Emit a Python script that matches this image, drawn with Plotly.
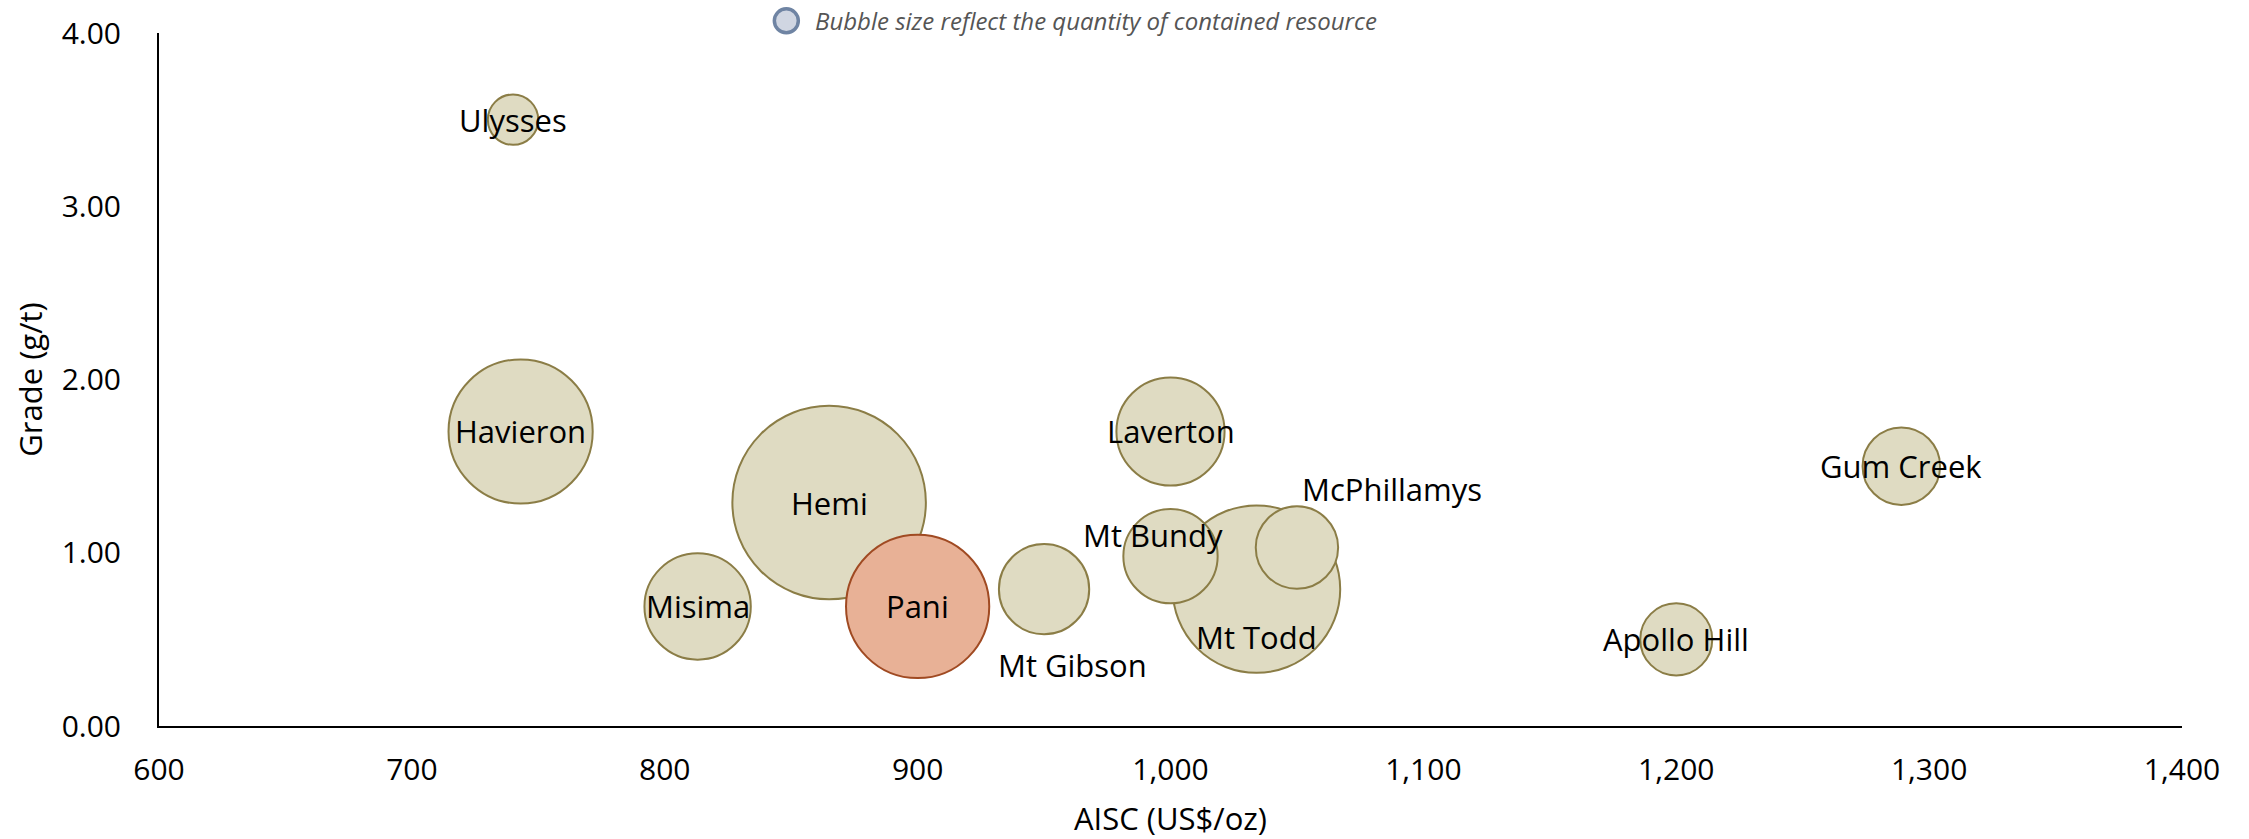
import plotly.graph_objects as go

# ---- data ----
projects = ["Ulysses", "Havieron", "Hemi", "Misima", "Pani", "Mt Gibson",
            "Laverton", "Mt Todd", "Mt Bundy", "McPhillamys", "Apollo Hill", "Gum Creek"]
aisc = [740, 743, 865, 813, 900, 950, 1000, 1034, 1000, 1050, 1200, 1289]          # US$/oz
grade = [3.50, 1.70, 1.29, 0.69, 0.69, 0.79, 1.70, 0.79, 0.98, 1.03, 0.50, 1.50]   # g/t
resource = [0.65, 5.33, 9.6, 2.9, 5.26, 2.09, 3.0, 7.19, 2.28, 1.74, 1.33, 1.54]   # contained resource (Moz, est.)
highlight = "Pani"

x_ticks = [600, 700, 800, 900, 1000, 1100, 1200, 1300, 1400]
y_ticks = [0, 1, 2, 3, 4]

# ---- styles ----
FONT = "Open Sans, Lato, sans-serif"
base_fill, base_line = "#dfdbc2", "#8b7d46"
hi_fill, hi_line = "#e8b196", "#a04a22"
label_offsets = {  # (xshift, yshift) in px for labels not centred on their bubble
    "Mt Gibson": (28, -76),
    "Mt Todd": (0, -48),
    "Mt Bundy": (-18, 21),
    "McPhillamys": (95, 59),
}

fills = [hi_fill if p == highlight else base_fill for p in projects]
lines = [hi_line if p == highlight else base_line for p in projects]

fig = go.Figure()
fig.add_trace(go.Scatter(
    x=aisc, y=grade, mode="markers",
    marker=dict(size=resource, sizemode="area", sizeref=1 / 1950.0,
                color=fills, opacity=1,
                line=dict(color=lines, width=2)),
    text=projects, hoverinfo="text", showlegend=False,
))

annotations = []
for p, xv, yv in zip(projects, aisc, grade):
    dx, dy = label_offsets.get(p, (0, 0))
    annotations.append(dict(x=xv, y=yv, xref="x", yref="y", text=p, showarrow=False,
                            xshift=dx, yshift=dy,
                            font=dict(family=FONT, size=31, color="#000000")))

# legend note
annotations.append(dict(x=0.3233, y=1.0175, xref="paper", yref="paper",
                        text="<i>Bubble size reflect the quantity of contained resource</i>",
                        showarrow=False, xanchor="left", yanchor="middle",
                        font=dict(family=FONT, size=24, color="#555555")))

shapes = [dict(type="circle", xref="paper", yref="paper", xsizemode="pixel", ysizemode="pixel",
               xanchor=0.3101, yanchor=1.0175, x0=-12, x1=12, y0=-12, y1=12,
               fillcolor="#d0d6e2", line=dict(color="#6f84a3", width=3.5))]

fig.update_layout(
    width=2249, height=839,
    margin=dict(l=159, r=67, t=33, b=113, autoexpand=False),
    paper_bgcolor="white", plot_bgcolor="white",
    font=dict(family=FONT, size=30, color="#000000"),
    annotations=annotations, shapes=shapes,
    xaxis=dict(range=[600, 1400], tickvals=x_ticks, tickformat=",",
               showline=True, linecolor="#000000", linewidth=2,
               showgrid=False, zeroline=False, ticks="", automargin=False,
               ticklabelstandoff=16,
               tickfont=dict(family=FONT, size=30, color="#000000"),
               title=dict(text="AISC (US$/oz)", standoff=22,
                          font=dict(family=FONT, size=31, color="#000000"))),
    yaxis=dict(range=[0, 4], tickvals=y_ticks, tickformat=".2f",
               showline=True, linecolor="#000000", linewidth=2,
               showgrid=False, zeroline=False, ticks="", automargin=False,
               ticklabelstandoff=30,
               tickfont=dict(family=FONT, size=30, color="#000000"),
               title=dict(text="Grade (g/t)", standoff=10,
                          font=dict(family=FONT, size=31, color="#000000"))),
)

fig.write_html("out.html")
